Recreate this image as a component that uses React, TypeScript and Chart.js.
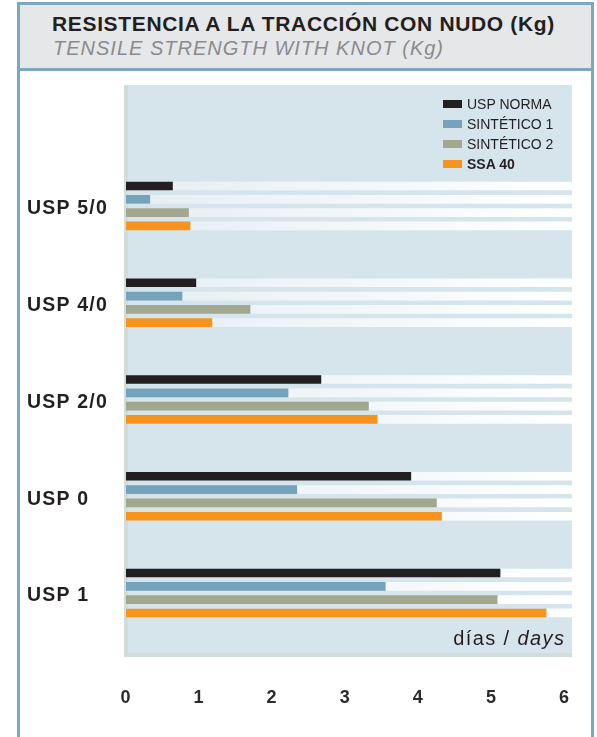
import React, { useEffect, useRef } from "react";
import { Chart, registerables } from "chart.js";

Chart.register(...registerables);

const categories = ["USP 5/0", "USP 4/0", "USP 2/0", "USP 0", "USP 1"];
const seriesNames = ["USP NORMA", "SINTÉTICO 1", "SINTÉTICO 2", "SSA 40"];
const uspNorma = [0.64, 0.96, 2.67, 3.9, 5.12];
const sintetico1 = [0.33, 0.77, 2.22, 2.34, 3.55];
const sintetico2 = [0.86, 1.7, 3.32, 4.25, 5.08];
const ssa40 = [0.88, 1.18, 3.44, 4.32, 5.75];
const xTicks = [0, 1, 2, 3, 4, 5, 6];
const X_MAX = 6.1;

const seriesValues = [uspNorma, sintetico1, sintetico2, ssa40];
const seriesColors = ["#231f20", "#74a3bb", "#a4a78f", "#f7941e"];

const FONT = "'Liberation Sans', Arial, Helvetica, sans-serif";
const TEXT = "#231f20";
const FRAME = "#7ba7c3";
const PANEL = "#d6e5ec";
const SHADOW = "#d2dcd8";

const panelPlugin = {
  id: "panel",
  beforeDraw(chart: any) {
    const { ctx, chartArea } = chart;
    if (!chartArea) return;
    const { left, right, top, bottom } = chartArea;
    ctx.save();
    ctx.fillStyle = SHADOW;
    ctx.fillRect(left - 2, top, right - left + 2, bottom - top + 4);
    ctx.fillStyle = PANEL;
    ctx.fillRect(left + 2, top, right - left - 2, bottom - top);
    ctx.restore();
    (ctx as any).letterSpacing = "1.2px";
  },
  afterDraw(chart: any) {
    (chart.ctx as any).letterSpacing = "0px";
  },
};

export default function App() {
  const ref = useRef<HTMLCanvasElement | null>(null);

  useEffect(() => {
    if (!ref.current) return;
    const trackColor = (c: any) => {
      const chart = c.chart;
      const area = chart.chartArea;
      if (!area) return "#eef4f7";
      const g = chart.ctx.createLinearGradient(area.left, 0, area.right, 0);
      g.addColorStop(0, "#e5eef3");
      g.addColorStop(1, "#ffffff");
      return g;
    };
    const datasets: any[] = [];
    seriesValues.forEach((vals, i) => {
      datasets.push({
        label: seriesNames[i],
        data: vals.map((v, j) => ({ x: v, y: j })),
        backgroundColor: seriesColors[i],
        stack: "s" + i,
        borderWidth: 0,
        categoryPercentage: 0.55,
        barPercentage: 0.65,
      });
    });
    seriesValues.forEach((vals, i) => {
      datasets.push({
        label: "track" + i,
        data: vals.map((v, j) => ({ x: X_MAX - v, y: j })),
        backgroundColor: trackColor,
        stack: "s" + i,
        borderWidth: 0,
        categoryPercentage: 0.55,
        barPercentage: 0.65,
      });
    });

    const chart = new Chart(ref.current, {
      type: "bar",
      data: { datasets },
      plugins: [panelPlugin],
      options: {
        indexAxis: "y",
        animation: false,
        responsive: false,
        events: [],
        layout: { padding: { left: 27, right: 25, top: 85, bottom: 0 } },
        plugins: { legend: { display: false }, tooltip: { enabled: false } },
        scales: {
          x: {
            type: "linear",
            stacked: true,
            bounds: "data",
            offset: false,
            min: 0,
            max: X_MAX,
            grid: { display: false, drawTicks: true, tickLength: 34 },
            border: { display: false },
            afterBuildTicks: (s: any) => {
              s.ticks = xTicks.map((v) => ({ value: v }));
            },
            afterFit: (s: any) => {
              s.height = 84;
            },
            ticks: {
              autoSkip: false,
              padding: 0,
              maxRotation: 0,
              color: "#2b2b2b",
              font: { family: FONT, size: 18, weight: "bold" },
              callback: (v: any) => String(v),
            },
          },
          y: {
            type: "linear",
            reverse: true,
            bounds: "data",
            offset: false,
            min: -1.25,
            max: 4.62,
            grid: { display: false, drawTicks: false },
            border: { display: false },
            afterBuildTicks: (s: any) => {
              s.ticks = categories.map((_, i) => ({ value: i }));
            },
            afterFit: (s: any) => {
              s.width = 99;
            },
            ticks: {
              autoSkip: false,
              crossAlign: "far",
              labelOffset: 3,
              padding: 0,
              color: TEXT,
              font: { family: FONT, size: 19.5, weight: "bold" },
              callback: (v: any) => categories[v] ?? "",
            },
          },
        },
      } as any,
    });
    return () => chart.destroy();
  }, []);

  return (
    <div
      style={{
        position: "absolute",
        left: 0,
        top: 0,
        width: 597,
        height: 737,
        background: "#ffffff",
        overflow: "hidden",
        fontFamily: FONT,
      }}
    >
      <div
        style={{
          position: "absolute",
          left: 17,
          top: 2,
          width: 577,
          height: 800,
          border: `3px solid ${FRAME}`,
          boxSizing: "border-box",
        }}
      />
      <div
        style={{
          position: "absolute",
          left: 17,
          top: 2,
          width: 577,
          height: 69,
          background: "#e6e7e9",
          border: `3px solid ${FRAME}`,
          boxSizing: "border-box",
        }}
      />
      <div
        style={{
          position: "absolute",
          left: 52,
          top: 13,
          fontSize: 21,
          lineHeight: "21px",
          fontWeight: "bold",
          letterSpacing: "0.65px",
          color: TEXT,
          whiteSpace: "nowrap",
        }}
      >
        RESISTENCIA A LA TRACCIÓN CON NUDO (Kg)
      </div>
      <div
        style={{
          position: "absolute",
          left: 53,
          top: 38,
          fontSize: 20,
          lineHeight: "20px",
          fontStyle: "italic",
          letterSpacing: "1px",
          color: "#8a8b8d",
          whiteSpace: "nowrap",
        }}
      >
        TENSILE STRENGTH WITH KNOT (Kg)
      </div>
      <canvas
        ref={ref}
        width={597}
        height={737}
        style={{ position: "absolute", left: 0, top: 0, width: 597, height: 737 }}
      />
      {seriesNames.map((name, i) => (
        <div
          key={name}
          style={{
            position: "absolute",
            left: 443,
            top: 93.7 + i * 20.2,
            height: 20,
            display: "flex",
            alignItems: "center",
            whiteSpace: "nowrap",
          }}
        >
          <span
            style={{
              display: "inline-block",
              width: 19,
              height: 8,
              background: seriesColors[i],
              marginRight: 5,
            }}
          />
          <span
            style={{
              fontSize: 14,
              lineHeight: "20px",
              color: TEXT,
              fontWeight: i === 3 ? "bold" : "normal",
            }}
          >
            {name}
          </span>
        </div>
      ))}
      <div
        style={{
          position: "absolute",
          left: 0,
          top: 628,
          width: 565.4,
          textAlign: "right",
          fontSize: 20,
          lineHeight: "20px",
          letterSpacing: "1.4px",
          color: TEXT,
          whiteSpace: "nowrap",
        }}
      >
        días / <i>days</i>
      </div>
    </div>
  );
}
